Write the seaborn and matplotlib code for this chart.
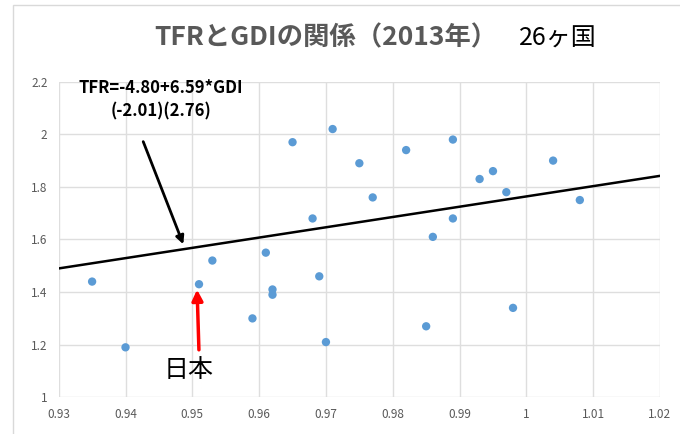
"""Scatter of TFR vs GDI (2013, 26 countries) with a fitted trend line."""
import matplotlib
matplotlib.use("Agg")
import matplotlib.pyplot as plt
import numpy as np
import pandas as pd
import seaborn as sns

# GDI (x) and TFR (y)
gdi = [0.935, 0.940, 0.951, 0.953, 0.959, 0.961, 0.962, 0.962, 0.965, 0.968,
       0.969, 0.970, 0.971, 0.975, 0.977, 0.982, 0.989, 0.986, 0.989, 0.993,
       0.995, 0.997, 1.004, 1.008, 0.985, 0.998]
tfr = [1.44, 1.19, 1.43, 1.52, 1.30, 1.55, 1.41, 1.39, 1.97, 1.68,
       1.46, 1.21, 2.02, 1.89, 1.76, 1.94, 1.98, 1.61, 1.68, 1.83,
       1.86, 1.78, 1.90, 1.75, 1.27, 1.34]

# trend line as drawn in the picture (end points at the x limits)
trend_x = [0.93, 1.02]
trend_y = [1.490, 1.842]

japan = (0.951, 1.43)

x_ticks = [0.93, 0.94, 0.95, 0.96, 0.97, 0.98, 0.99, 1.00, 1.01, 1.02]
x_labels = ["0.93", "0.94", "0.95", "0.96", "0.97", "0.98", "0.99", "1", "1.01", "1.02"]
y_ticks = [1.0, 1.2, 1.4, 1.6, 1.8, 2.0, 2.2]
y_labels = ["1", "1.2", "1.4", "1.6", "1.8", "2", "2.2"]

df = pd.DataFrame({"GDI": gdi, "TFR": tfr})
trend = pd.DataFrame({"GDI": trend_x, "TFR": trend_y})

sns.set_theme(style="whitegrid")
plt.rcParams["font.family"] = ["Noto Sans CJK JP", "DejaVu Sans"]

fig = plt.figure(figsize=(6.8, 4.34), dpi=100)
ax = fig.add_axes([58.7 / 680, 36.7 / 434, (660 - 58.7) / 680, (397.3 - 81.7) / 434])

# outer chart-area border like the spreadsheet chart
fig.patches.append(plt.Rectangle((13 / 680, -0.02), 1.1, 1 - 5 / 434 + 0.02,
                                 transform=fig.transFigure, fill=False,
                                 edgecolor="#d9d9d9", linewidth=1.0))

sns.lineplot(data=trend, x="GDI", y="TFR", color="black", linewidth=1.8, ax=ax)
sns.scatterplot(data=df, x="GDI", y="TFR", color="#5b9bd5", s=36,
                edgecolor="none", ax=ax, zorder=3)

ax.set_xlim(0.93, 1.02)
ax.set_ylim(1.0, 2.2)
ax.set_xticks(x_ticks)
ax.set_xticklabels(x_labels)
ax.set_yticks(y_ticks)
ax.set_yticklabels(y_labels)
ax.tick_params(axis="both", colors="#595959", labelsize=8.5, length=0, pad=8)
ax.grid(True, color="#dedede", linewidth=1.0)
for spine in ax.spines.values():
    spine.set_visible(False)
ax.set_xlabel("")
ax.set_ylabel("")

fig.text(0.479, 0.912, "TFRとGDIの関係（2013年）", ha="center", va="center",
         fontsize=19, fontweight="bold", color="#595959")
fig.text(0.820, 0.910, "26ヶ国", ha="center", va="center", fontsize=18, color="black")

ax.text(0.9453, 2.176, "TFR=-4.80+6.59*GDI", ha="center", va="center",
        fontsize=12, fontweight="bold", color="black")
ax.text(0.9453, 2.085, "(-2.01)(2.76)", ha="center", va="center",
        fontsize=12, fontweight="bold", color="black")

ax.annotate("", xy=(0.9488, 1.572), xytext=(0.9425, 1.982),
            arrowprops=dict(arrowstyle="-|>", color="black", lw=2, mutation_scale=12))
ax.annotate("", xy=(japan[0] - 0.0003, japan[1] - 0.01), xytext=(japan[0], 1.17),
            arrowprops=dict(arrowstyle="-|>", color="red", lw=2.5, mutation_scale=16))
ax.text(0.9494, 1.104, "日本", ha="center", va="center", fontsize=18, color="black")

fig.savefig("out.png", dpi=100)
